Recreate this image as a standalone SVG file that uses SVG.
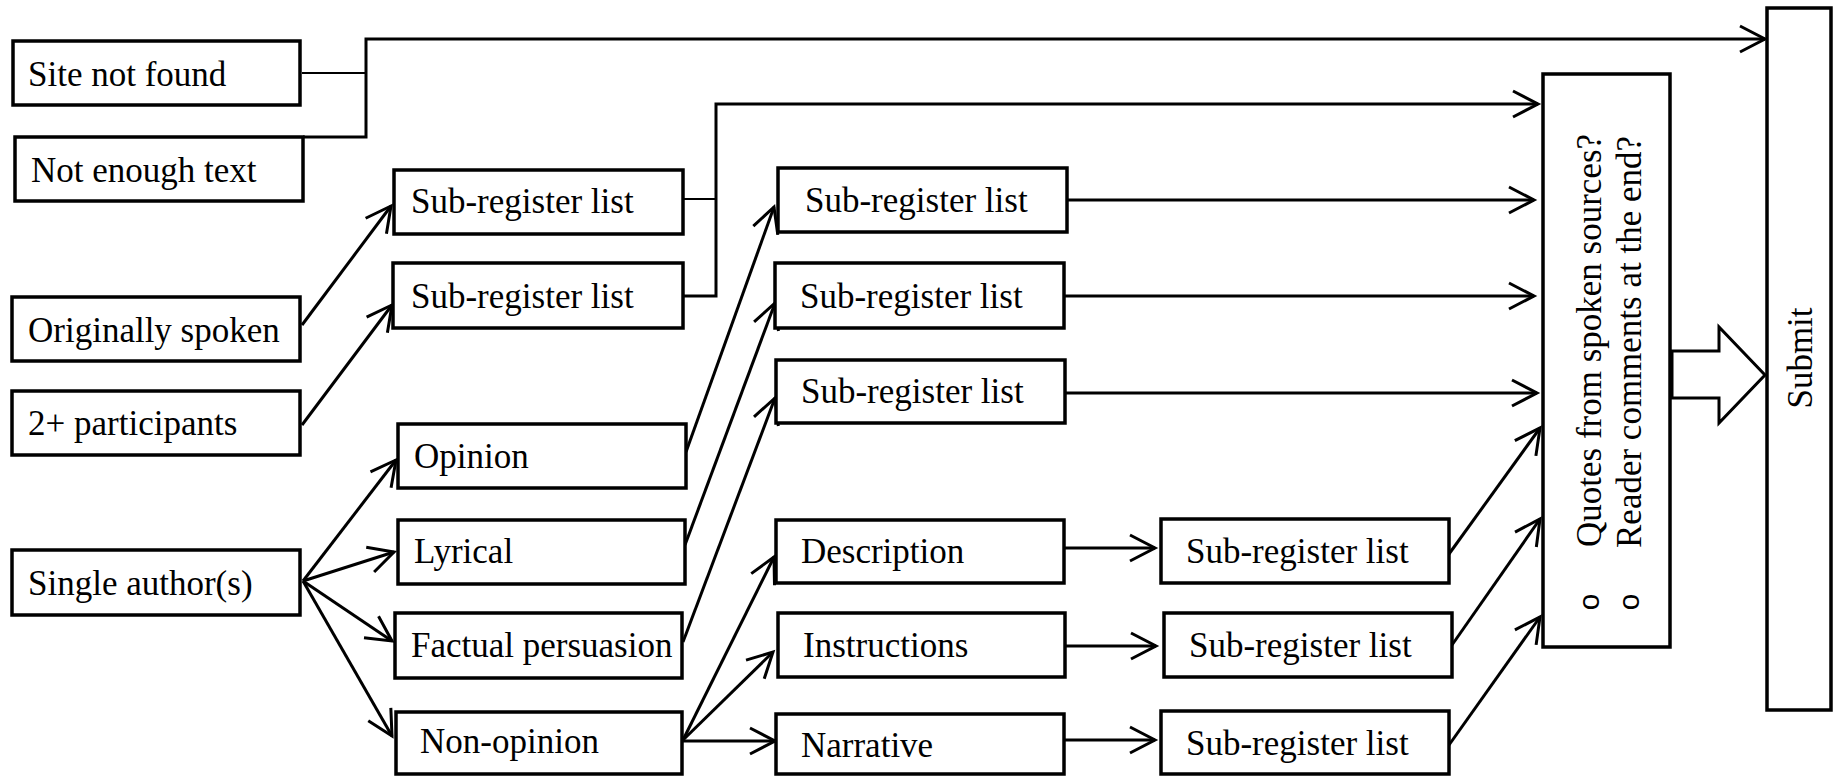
<svg xmlns="http://www.w3.org/2000/svg" width="1839" height="776" viewBox="0 0 1839 776">
<style>
.box{fill:#fff;stroke:#000;stroke-width:3.5}
.t{font-family:"Liberation Serif","Times New Roman",serif;font-size:35px;fill:#000}
.c{fill:none;stroke:#000;stroke-width:3}
.a{fill:none;stroke:#000;stroke-width:3;marker-end:url(#arr)}
.thin{fill:none;stroke:#000;stroke-width:2}
.bul{font-family:"Liberation Mono","Courier New",monospace;font-size:30px;fill:#000}
</style>
<defs>
<marker id="arr" markerUnits="userSpaceOnUse" viewBox="-30 -16 34 32" markerWidth="34" markerHeight="32" refX="0" refY="0" orient="auto" overflow="visible">
<path d="M-25,-13 L0,0 L-25,13" fill="none" stroke="#000" stroke-width="3"/>
</marker>
</defs>
<g id="connectors">
<path class="thin" d="M302,73 H366"/>
<path class="a" d="M303,137 H366 V39 H1765"/>
<path class="a" d="M302,325 L391,206"/>
<path class="a" d="M302,425 L392,305"/>
<path class="thin" d="M683,199 H716"/>
<path class="a" d="M683,296 H716 V104 H1538"/>
<path class="a" d="M303,581 L396,460"/>
<path class="a" d="M303,581 L394,552"/>
<path class="a" d="M303,581 L392,641"/>
<path class="a" d="M303,581 L392,736"/>
<path class="a" d="M686,452 L774,207"/>
<path class="a" d="M685,545 L775,303"/>
<path class="a" d="M683,642 L775,398"/>
<path class="a" d="M683,740 L774,557"/>
<path class="a" d="M683,740 L773,652"/>
<path class="a" d="M683,741 L775,741"/>
<path class="a" d="M1063,200 L1534,200"/>
<path class="a" d="M1064,296 L1534,296"/>
<path class="a" d="M1065,393 L1537,393"/>
<path class="a" d="M1064,548 L1155,548"/>
<path class="a" d="M1065,646 L1156,646"/>
<path class="a" d="M1064,740 L1155,740"/>
<path class="a" d="M1449,554 L1540,428"/>
<path class="a" d="M1452,645 L1540,519"/>
<path class="a" d="M1449,745 L1540,617"/>
<polygon points="1672,351 1719,351 1719,327 1765,375 1719,423 1719,398 1672,398" fill="#fff" stroke="#000" stroke-width="3"/>
</g>
<g id="n_site"><rect class="box" x="13" y="41" width="287" height="64"/><text class="t" x="28" y="86">Site not found</text></g>
<g id="n_notenough"><rect class="box" x="15" y="137" width="288" height="64"/><text class="t" x="31" y="182">Not enough text</text></g>
<g id="n_spoken"><rect class="box" x="12" y="297" width="288" height="64"/><text class="t" x="28" y="342">Originally spoken</text></g>
<g id="n_participants"><rect class="box" x="12" y="391" width="288" height="64"/><text class="t" x="28" y="435">2+ participants</text></g>
<g id="n_single"><rect class="box" x="12" y="550" width="288" height="65"/><text class="t" x="28" y="595">Single author(s)</text></g>
<g id="n_sub1"><rect class="box" x="394" y="170" width="289" height="64"/><text class="t" x="411" y="213">Sub-register list</text></g>
<g id="n_sub2"><rect class="box" x="393" y="263" width="290" height="65"/><text class="t" x="411" y="308">Sub-register list</text></g>
<g id="n_opinion"><rect class="box" x="398" y="424" width="288" height="64"/><text class="t" x="414" y="468">Opinion</text></g>
<g id="n_lyrical"><rect class="box" x="398" y="520" width="287" height="64"/><text class="t" x="414" y="563">Lyrical</text></g>
<g id="n_factual"><rect class="box" x="395" y="613" width="287" height="65"/><text class="t" x="411" y="657">Factual persuasion</text></g>
<g id="n_nonopinion"><rect class="box" x="396" y="712" width="286" height="62"/><text class="t" x="420" y="753">Non-opinion</text></g>
<g id="n_subA"><rect class="box" x="778" y="168" width="289" height="64"/><text class="t" x="805" y="212">Sub-register list</text></g>
<g id="n_subB"><rect class="box" x="775" y="263" width="289" height="65"/><text class="t" x="800" y="308">Sub-register list</text></g>
<g id="n_subC"><rect class="box" x="776" y="360" width="289" height="63"/><text class="t" x="801" y="403">Sub-register list</text></g>
<g id="n_description"><rect class="box" x="776" y="520" width="288" height="63"/><text class="t" x="801" y="563">Description</text></g>
<g id="n_instructions"><rect class="box" x="778" y="613" width="287" height="64"/><text class="t" x="803" y="657">Instructions</text></g>
<g id="n_narrative"><rect class="box" x="776" y="714" width="288" height="60"/><text class="t" x="801" y="757">Narrative</text></g>
<g id="n_subD"><rect class="box" x="1161" y="519" width="288" height="64"/><text class="t" x="1186" y="563">Sub-register list</text></g>
<g id="n_subE"><rect class="box" x="1164" y="613" width="288" height="64"/><text class="t" x="1189" y="657">Sub-register list</text></g>
<g id="n_subF"><rect class="box" x="1161" y="711" width="288" height="63"/><text class="t" x="1186" y="755">Sub-register list</text></g>
<g id="n_quotes"><rect class="box" x="1543" y="74" width="127" height="573"/>
<text class="t" x="1601" y="547" transform="rotate(-90 1601 547)">Quotes from spoken sources?</text>
<text class="t" x="1641" y="548" transform="rotate(-90 1641 548)">Reader comments at the end?</text>
<text class="bul" x="1599" y="602" text-anchor="middle" transform="rotate(-90 1599 602)">o</text>
<text class="bul" x="1639" y="602" text-anchor="middle" transform="rotate(-90 1639 602)">o</text>
</g>
<g id="n_submit"><rect class="box" x="1767" y="8" width="64" height="702"/><text class="t" x="1812" y="358" text-anchor="middle" transform="rotate(-90 1812 358)">Submit</text></g>
</svg>
